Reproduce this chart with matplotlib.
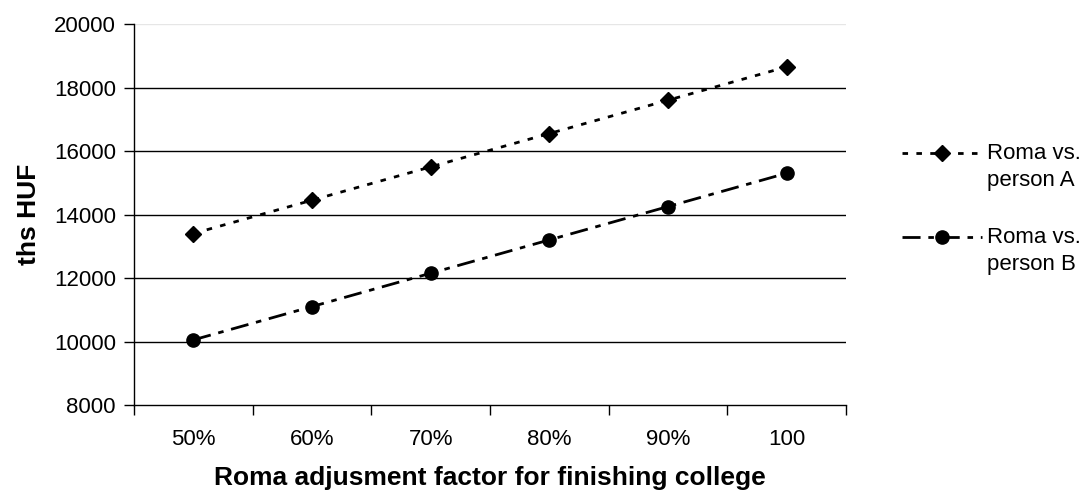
# Roma adjustment factor chart
import matplotlib.pyplot as plt
from matplotlib.lines import Line2D
from matplotlib.ticker import NullFormatter

categories = ['50%', '60%', '70%', '80%', '90%', '100']
person_a = [13400, 14450, 15500, 16550, 17600, 18650]
person_b = [10050, 11100, 12150, 13200, 14250, 15300]
series_labels = ['Roma vs.\nperson A', 'Roma vs.\nperson B']
y_ticks = [8000, 10000, 12000, 14000, 16000, 18000, 20000]

plt.rcParams['font.family'] = ['Liberation Sans', 'DejaVu Sans']

W, H = 1086, 494
fig = plt.figure(figsize=(W / 100, H / 100), dpi=100)
ax = fig.add_axes([134 / W, 1 - 405 / H, (846 - 134) / W, (405 - 24) / H])

x = list(range(len(categories)))

style_a = dict(color='black', linewidth=2, linestyle=(0, (2, 3)),
               marker='D', markersize=8)
style_b = dict(color='black', linewidth=2, linestyle=(0, (6.5, 2.8, 2, 2.8)),
               marker='o', markersize=9.5)

# series lines
ax.plot(x, person_a, zorder=3, **style_a)
ax.plot(x, person_b, zorder=3, **style_b)

# horizontal gridlines
for v in y_ticks[1:-1]:
    ax.axhline(v, color='black', linewidth=1, zorder=1)
ax.axhline(y_ticks[-1], color='#e6e6e6', linewidth=1, zorder=1)

ax.set_xlim(-0.5, len(categories) - 0.5)
ax.set_ylim(y_ticks[0], y_ticks[-1])
ax.set_yticks(y_ticks)

# category boundaries as major ticks, labels at centers
ax.set_xticks([i - 0.5 for i in range(len(categories) + 1)])
ax.xaxis.set_major_formatter(NullFormatter())
ax.set_xticks(x, minor=True)
ax.set_xticklabels(categories, minor=True)
ax.tick_params(axis='x', which='minor', length=0, pad=17.5, labelsize=16)
ax.tick_params(axis='x', which='major', length=7, width=1, direction='out')
ax.tick_params(axis='y', length=7, width=1, direction='out', pad=6, labelsize=16)

for side in ['top', 'right']:
    ax.spines[side].set_visible(False)
for side in ['left', 'bottom']:
    ax.spines[side].set_linewidth(1)

ax.set_xlabel('Roma adjusment factor for finishing college', fontsize=19,
              fontweight='bold', labelpad=11)
ax.set_ylabel('ths HUF', fontsize=19, fontweight='bold', labelpad=9)

# legend drawn by hand so the key sits beside the first text line
for style, label, y in [(style_a, series_labels[0], 153),
                        (style_b, series_labels[1], 237)]:
    fig.add_artist(Line2D([902 / W, 942 / W, 982 / W], [1 - y / H] * 3,
                          transform=fig.transFigure, markevery=[1], **style))
    fig.text(987 / W, 1 - (y - 10) / H, label, fontsize=16, va='top',
             ha='left', linespacing=1.4)

plt.savefig('out.png', dpi=100)
